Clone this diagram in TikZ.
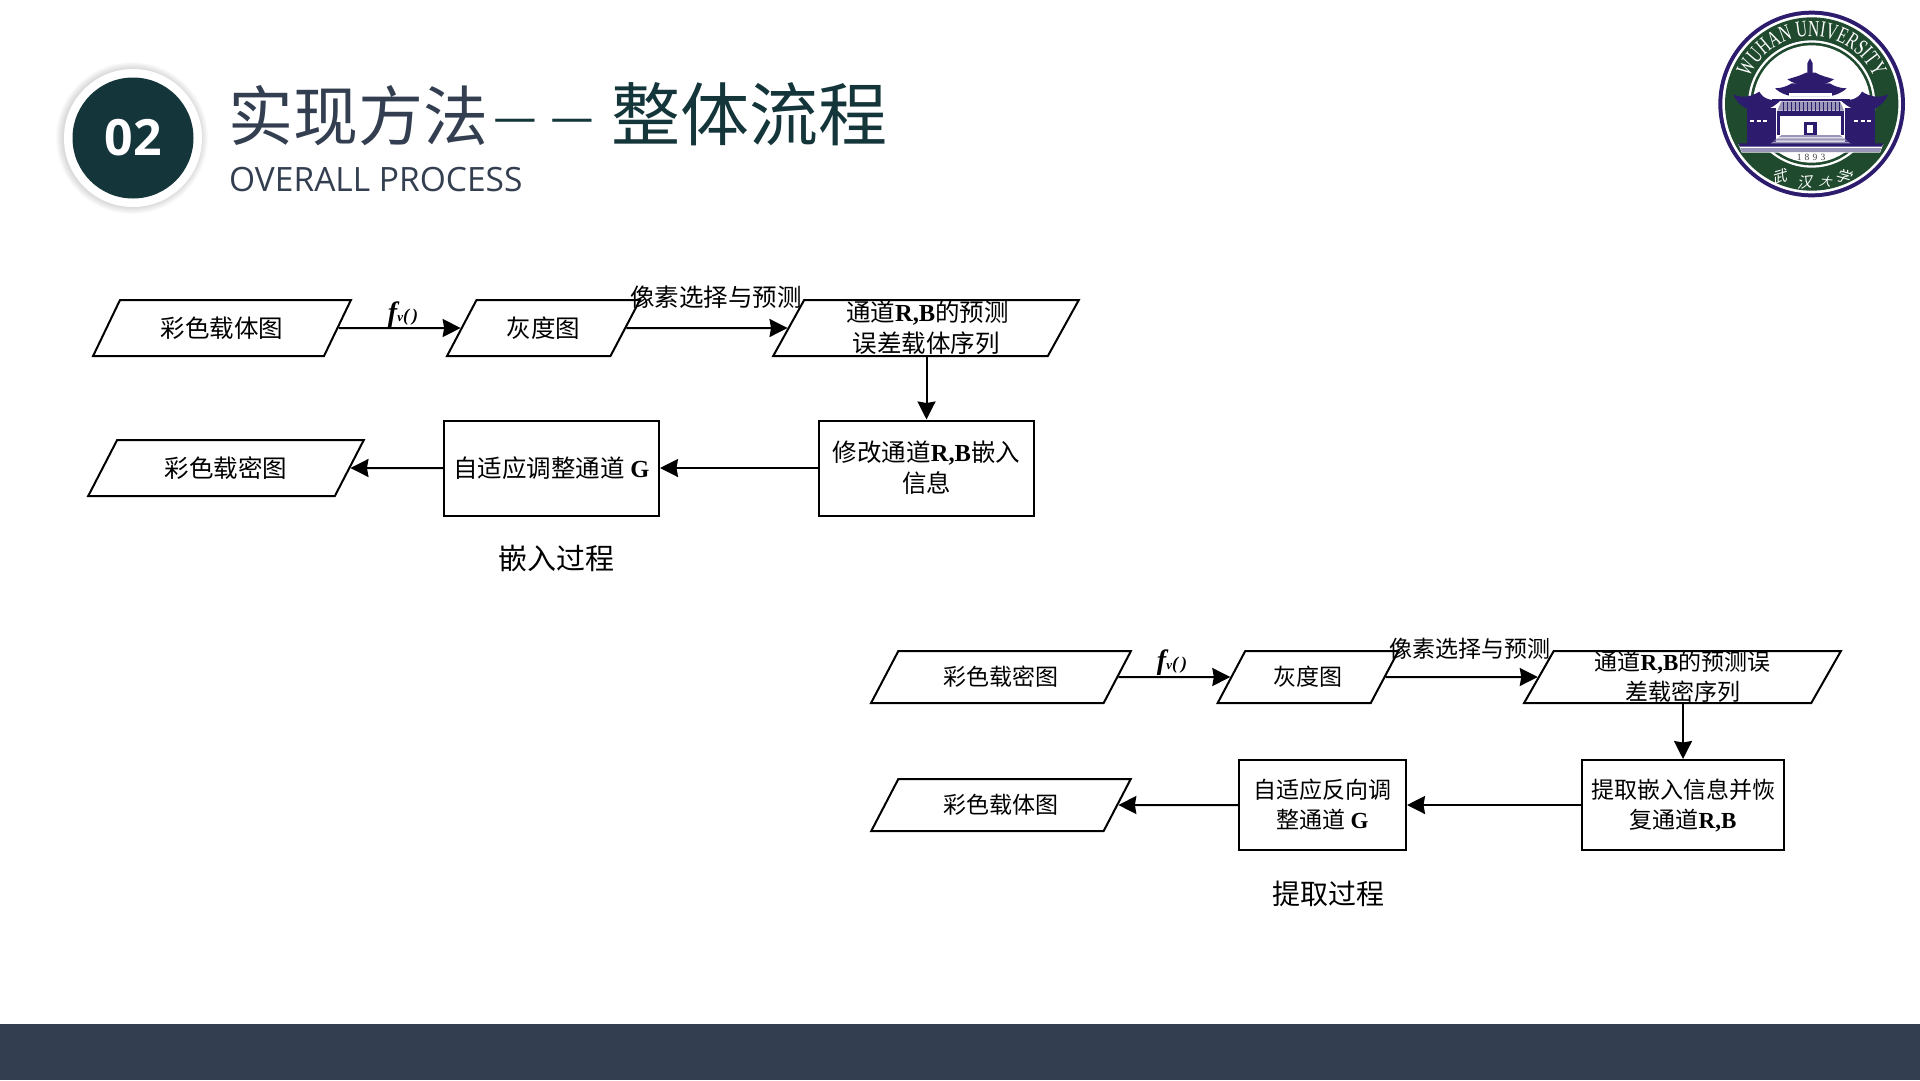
\documentclass[tikz,border=0pt]{standalone}
\usepackage{fontspec}
\usetikzlibrary{arrows.meta,shapes.geometric,decorations.text}
\setmainfont{Noto Sans CJK SC}
\newfontfamily\tms{Liberation Serif}
\newfontfamily\uifont{Open Sans}
\newfontfamily\sealfont[FakeStretch=0.68]{Liberation Serif}
\definecolor{deepteal}{HTML}{14363A}
\definecolor{slate}{HTML}{333F50}
\definecolor{sealgreen}{HTML}{1F4A2E}
\definecolor{sealpurple}{HTML}{2D1B6E}
\definecolor{seallilac}{HTML}{9A96B8}
\newcommand{\latin}[1]{{\tms\bfseries #1}}
\newcommand{\fvlabel}{{\tms\bfseries\itshape\fontsize{28}{28}\selectfont f\fontsize{13}{13}\selectfont v\fontsize{18}{18}\selectfont(\,)}}
\tikzset{
	iobox/.style={draw,line width=2pt,trapezium,trapezium left angle=#1,trapezium right angle=180-#1,
		trapezium stretches=true,inner sep=0pt,align=center},
	iobox/.default=54.5,
	procbox/.style={draw,line width=2pt,rectangle,inner sep=0pt,align=center},
	bigfont/.style={font=\fontsize{24.5}{31}\selectfont},
	smallfont/.style={font=\fontsize{23}{30}\selectfont},
	flow/.style={draw,line width=2pt,-{Stealth[length=18pt,width=18pt,inset=1.5pt]}},
	sealwing/.style={fill=sealpurple}
}
\begin{document}
\begin{tikzpicture}[x=1pt,y=-1pt]
	\useasboundingbox (0,0) rectangle (1920,1080);
	\fill[white] (0,0) rectangle (1920,1080);
	\fill[slate] (0,1024) rectangle (1920,1080);
	\foreach \rad in {70,71,72,73,74,75,76}
		\fill[black,opacity=0.018] (132,138) circle[radius=\rad];
	\node[circle,fill=white,minimum size=138pt,inner sep=0pt] (ring) at (133,138) {};
	\node[circle,fill=deepteal,minimum size=121pt,inner sep=0pt,text=white,font=\uifont\bfseries\fontsize{50}{50}\selectfont] (num) at (133,138) {02};
	\node[anchor=base west,inner sep=0pt,font=\fontsize{65}{65}\selectfont,text=deepteal] (title) at (228,140) {\textcolor{slate}{实现方法}\hspace{5pt}{\fontsize{49}{49}\selectfont\raisebox{6pt}{—\hspace{14pt}—}}\hspace{17pt}{\fontsize{69}{69}\selectfont 整体流程}};
	\node[anchor=west,inner sep=0pt,font=\uifont\fontsize{33.5}{33.5}\selectfont,text=slate] (subtitle) at (229,180) {OVERALL PROCESS};

	\begin{scope}[shift={(1700,0)},scale=1/3]
		\fill[sealpurple] (335,312) circle[radius=280];
		\fill[white] (335,312) circle[radius=268];
		\fill[sealgreen] (335,312) circle[radius=260];
		\fill[white] (335,312) circle[radius=191];
		\fill[sealgreen] (335,312) circle[radius=184];
		\fill[white] (335,312) circle[radius=176];
		\path[decorate,decoration={text along path,text align=center,text color=white,
			text={|\sealfont\fontsize{23}{23}\selectfont|WUHAN UNIVERSITY}}]
			(335,312) ++(-160:203) arc[start angle=-160,end angle=-20,radius=203];
		\fill[sealpurple] (322,235) -- (322,190) -- (330,175) -- (338,190) -- (338,235) -- cycle;
		\fill[sealpurple] (262,238) .. controls (280,232) and (300,228) .. (318,218) -- (346,218)
			.. controls (364,228) and (384,232) .. (402,238) .. controls (385,250) and (370,252) .. (360,256) -- (304,256)
			.. controls (294,252) and (279,250) .. (262,238) -- cycle;
		\fill[sealpurple] (225,265) .. controls (245,265) and (262,258) .. (275,250) -- (389,250)
			.. controls (402,258) and (419,265) .. (440,265) .. controls (420,282) and (405,285) .. (392,288) -- (272,288)
			.. controls (259,285) and (244,282) .. (225,265) -- cycle;
		\fill[white] (268,288) -- (396,288) -- (396,280) -- (268,280) -- cycle;
		\fill[seallilac] (244,304) -- (420,304) -- (432,332) -- (232,332) -- cycle;
		\foreach \xs in {250,262,...,420}
			\draw[sealpurple,line width=0.6pt] (\xs,306) -- (\xs,332);
		\fill[sealpurple] (215,296) -- (449,296) -- (449,304) -- (215,304) -- cycle;
		\foreach \xs/\sgn in {0/1,664/-1}{
			\begin{scope}[shift={(\xs,0)},xscale=\sgn]
				\fill[sealwing] (100,283) .. controls (125,296) and (155,290) .. (178,275)
					.. controls (190,298) and (215,304) .. (245,298) .. controls (225,318) and (210,325) .. (205,325)
					-- (138,325) .. controls (125,318) and (108,305) .. (100,283) -- cycle;
				\fill[sealwing] (140,325) rectangle (228,432);
				\foreach \dx in {150,170,190}
					\fill[white] (\dx,360) rectangle (\dx+12,366);
				\fill[sealpurple] (232,336) rectangle (240,405);
			\end{scope}
		}
		\fill[sealpurple] (232,334) rectangle (432,348);
		\fill[white] (245,405) -- (245,372) .. controls (245,355) and (272,355) .. (272,372) -- (272,405) -- cycle;
		\fill[white] (392,405) -- (392,372) .. controls (392,355) and (419,355) .. (419,372) -- (419,405) -- cycle;
		\fill[white] (285,405) -- (285,355) -- (380,355) -- (380,405) -- cycle;
		\fill[sealpurple] (312,365) rectangle (350,405);
		\fill[white] (322,376) rectangle (340,400);
		\foreach \ya/\xa in {405/245,415/232,425/220}
			\fill[seallilac] (\xa,\ya) -- (664-\xa,\ya) -- (664-\xa+10,\ya+7) -- (\xa-10,\ya+7) -- cycle;
		\fill[white] (115,432) -- (550,432) -- (540,458) -- (125,458) -- cycle;
		\fill[sealpurple] (115,430) -- (550,430) -- (546,440) -- (119,440) -- cycle;
		\fill[seallilac] (121,444) -- (544,444) -- (540,456) -- (125,456) -- cycle;
		\node[font=\tms\fontsize{9.5}{9.5}\selectfont,text=black!75,inner sep=0pt] (year) at (333,473) {1\,\,8\,\,9\,\,3};
		\node[font=\fontsize{15}{15}\selectfont,text=white,inner sep=0pt,rotate=16,xslant=0.3] (wu) at (243,530) {武};
		\node[font=\fontsize{15}{15}\selectfont,text=white,inner sep=0pt,rotate=5,xslant=0.3] (han) at (318,545) {汉};
		\node[font=\fontsize{12}{12}\selectfont,text=white,inner sep=0pt,rotate=-5,xslant=0.3] (da) at (380,545) {大};
		\node[font=\fontsize{15}{15}\selectfont,text=white,inner sep=0pt,rotate=-16,xslant=0.3] (xue) at (436,528) {学};
	\end{scope}

	\node[iobox,bigfont,minimum width=258pt,minimum height=56pt] (coverA) at (222,328) {彩色载体图};
	\node[iobox,bigfont,minimum width=193pt,minimum height=56pt] (grayA) at (543.5,328) {灰度图};
	\node[iobox=68.6,bigfont,minimum width=306pt,minimum height=56pt] (seqA) at (926,328) {\hspace{3pt}通道\latin{R,B}的预测\\误差载体序列};
	\node[procbox,bigfont,minimum width=215pt,minimum height=95pt] (modA) at (926.5,468) {修改通道\latin{R,B}嵌入\\信息};
	\node[procbox,bigfont,minimum width=215pt,minimum height=95pt] (adaptA) at (551.5,468) {自适应调整通道 \latin{G}};
	\node[iobox,bigfont,minimum width=276pt,minimum height=56pt] (stegoA) at (226,468) {彩色载密图};
	\node[inner sep=0pt] (fvA) at (403,315) {\fvlabel};
	\node[inner sep=0pt,bigfont] (pickA) at (716,297) {像素选择与预测};
	\node[inner sep=0pt,font=\fontsize{29}{29}\selectfont] (capA) at (556,558) {嵌入过程};
	\draw[flow] (coverA.east) -- (grayA.west);
	\draw[flow] (grayA.east) -- (seqA.west);
	\draw[flow] (seqA.south -| modA.north) -- (modA.north);
	\draw[flow] (modA.west) -- (adaptA.east);
	\draw[flow] (adaptA.west) -- (stegoA.east);

	\node[iobox,smallfont,minimum width=260pt,minimum height=52pt] (stegoB) at (1001,677) {彩色载密图};
	\node[iobox,smallfont,minimum width=182pt,minimum height=52pt] (grayB) at (1308,677) {灰度图};
	\node[iobox=68.5,smallfont,minimum width=317pt,minimum height=52pt] (seqB) at (1682.5,677) {通道\latin{R,B}的预测误\\差载密序列};
	\node[procbox,smallfont,minimum width=202pt,minimum height=90pt] (getB) at (1683,805) {提取嵌入信息并恢\\复通道\latin{R,B}};
	\node[procbox,smallfont,minimum width=167pt,minimum height=90pt] (adaptB) at (1322.5,805) {自适应反向调\\整通道 \latin{G}};
	\node[iobox,smallfont,minimum width=260pt,minimum height=52pt] (coverB) at (1001,805) {彩色载体图};
	\node[inner sep=0pt] (fvB) at (1172,663) {\fvlabel};
	\node[inner sep=0pt,smallfont] (pickB) at (1470,649) {像素选择与预测};
	\node[inner sep=0pt,font=\fontsize{28}{28}\selectfont] (capB) at (1328,894) {提取过程};
	\draw[flow] (stegoB.east) -- (grayB.west);
	\draw[flow] (grayB.east) -- (seqB.west);
	\draw[flow] (seqB.south -| getB.north) -- (getB.north);
	\draw[flow] (getB.west) -- (adaptB.east);
	\draw[flow] (adaptB.west) -- (coverB.east);
\end{tikzpicture}
\end{document}
